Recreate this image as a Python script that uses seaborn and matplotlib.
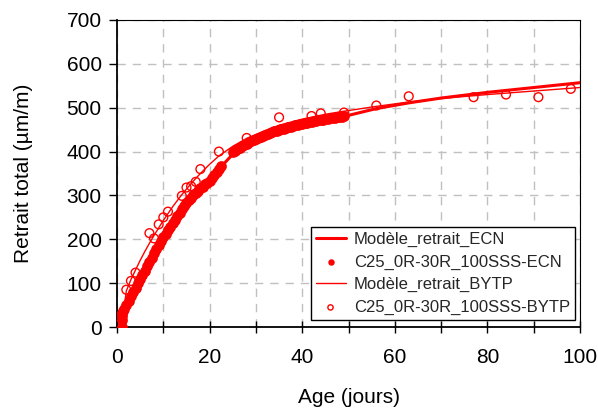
import matplotlib
matplotlib.use("Agg")
import matplotlib.pyplot as plt
import seaborn as sns
import pandas as pd

# ECN measurements (dense sensor readings)
ecn_age = [1.0, 1.0, 1.0, 1.1, 1.2,
           1.5, 2.0, 2.5, 3.0, 3.5, 4.0, 4.5, 5.0, 5.5, 6.0, 6.5, 7.0, 7.5, 8.0, 8.5,
           9.0, 9.5, 10.0, 10.5, 11.0, 11.5, 12.0, 12.5, 13.0, 13.5, 14.0, 14.5, 15.0,
           15.5, 16.0, 16.5, 17.0, 17.5, 18.0, 18.5, 19.0, 19.5, 20.0,
           20.5, 21.0, 21.5, 22.0, 22.5,
           25.0, 25.5, 26.0, 26.5, 27.0, 27.5, 28.0, 28.5, 29.0, 29.5, 30.0, 30.5,
           31.0, 31.5, 32.0, 32.5, 33.0, 33.5, 34.0, 34.5, 35.0, 35.5, 36.0, 36.5,
           37.0, 37.5, 38.0, 38.5, 39.0, 39.5, 40.0, 40.5, 41.0, 41.5, 42.0, 42.5,
           43.0, 43.5, 44.0, 44.5, 45.0, 45.5, 46.0, 46.5, 47.0, 47.5, 48.0, 48.5, 49.0]
ecn_val = [0, 15, 25, 32, 36,
           40, 50, 60, 70, 80, 90, 100, 110, 119, 128, 138, 148, 158, 168, 178,
           188, 197, 205, 213, 221, 229, 237, 245, 253, 261, 269, 276, 283,
           289, 295, 300, 306, 311, 316, 320, 325, 329, 333,
           340, 347, 354, 360, 366,
           398, 401, 405, 408, 412, 415, 418, 421, 424, 427, 429, 432,
           434, 436, 438, 440, 442, 444, 446, 448, 449, 451, 452, 454,
           455, 457, 458, 460, 461, 462, 463, 465, 466, 467, 468, 469,
           470, 471, 472, 473, 474, 475, 476, 476, 477, 478, 479, 479, 480]

# BYTP measurements
bytp_age = [2, 3, 4, 7, 8, 9, 10, 11, 14, 15, 16, 17, 18, 22, 28, 35, 42, 44, 49,
            56, 63, 77, 84, 91, 98]
bytp_val = [85, 105, 124, 214, 202, 234, 250, 263, 299, 318, 321, 331, 360, 400,
            431, 478, 481, 487, 489, 505, 526, 524, 530, 524, 543]

# model curves
mod_ecn_age = [1, 2, 4, 6, 8, 10, 12, 14, 16, 18, 20, 22, 25, 28, 32, 36, 40, 45,
               49, 56, 63, 70, 80, 90, 100]
mod_ecn_val = [0, 50, 90, 128, 168, 205, 237, 269, 295, 316, 336, 360, 394, 418,
               438, 452, 463, 474, 480, 498, 511, 522, 535, 546, 557]
mod_bytp_age = [1, 2, 3, 4, 5, 6, 7, 8, 10, 12, 14, 16, 18, 20, 22, 25, 28, 32, 35,
                40, 45, 49, 56, 63, 70, 80, 90, 100]
mod_bytp_val = [0, 82, 108, 130, 152, 172, 191, 209, 243, 274, 302, 327, 350, 371,
                390, 412, 430, 448, 460, 474, 485, 492, 503, 513, 521, 530, 538, 546]

sns.set_theme(style="white")
plt.rcParams['font.family'] = ['Liberation Sans', 'DejaVu Sans']

fig = plt.figure(figsize=(5.98, 4.12), dpi=100)
ax = fig.add_axes([0.1957, 0.2063, 0.7743, 0.7452])

red = '#ff0000'
sns.lineplot(x=mod_ecn_age, y=mod_ecn_val, ax=ax, color=red, linewidth=2.2,
             label='Modèle_retrait_ECN', zorder=3)
sns.scatterplot(x=ecn_age, y=ecn_val, ax=ax, color=red, s=60, linewidth=0,
                marker='o', label='C25_0R-30R_100SSS-ECN', zorder=4)
sns.lineplot(x=mod_bytp_age, y=mod_bytp_val, ax=ax, color=red, linewidth=1.0,
             label='Modèle_retrait_BYTP', zorder=5)
sns.scatterplot(x=bytp_age, y=bytp_val, ax=ax, s=40, marker='o',
                facecolors='none', edgecolors=red, linewidths=1.0,
                label='C25_0R-30R_100SSS-BYTP', zorder=6)

ax.set_xlim(0, 100)
ax.set_ylim(0, 700)
ax.set_xticks(range(0, 101, 10))
ax.set_xticklabels([str(v) if v % 20 == 0 else '' for v in range(0, 101, 10)])
ax.set_yticks(range(0, 701, 100))
ax.grid(True, color='#c0c0c0', linestyle=(0, (6, 5)), linewidth=1.0)
ax.set_axisbelow(True)

for s in ['top', 'right']:
    ax.spines[s].set_linewidth(0.8)
    ax.spines[s].set_color('black')
for s in ['left', 'bottom']:
    ax.spines[s].set_linewidth(1.3)
    ax.spines[s].set_color('black')

ax.tick_params(axis='x', direction='inout', length=8, width=1, labelsize=15,
               pad=11, bottom=True, colors='black')
ax.tick_params(axis='y', direction='out', length=6, width=1, labelsize=15,
               pad=5, left=True, colors='black')

ax.set_xlabel('Age (jours)', fontsize=15, labelpad=15, color='black')
ax.set_ylabel('Retrait total (µm/m)', fontsize=15, labelpad=24, color='black')

handles, labels = ax.get_legend_handles_labels()
order = ['Modèle_retrait_ECN', 'C25_0R-30R_100SSS-ECN',
         'Modèle_retrait_BYTP', 'C25_0R-30R_100SSS-BYTP']
hmap = dict(zip(labels, handles))
leg = ax.legend([hmap[k] for k in order], order, loc='lower right',
                bbox_to_anchor=(0.989, 0.023), borderaxespad=0, fontsize=12,
                frameon=True, fancybox=False, edgecolor='black', framealpha=1,
                handlelength=1.8, handletextpad=0.5, borderpad=0.3,
                labelspacing=0.45, markerscale=0.6)
leg.get_frame().set_linewidth(1)

fig.savefig('out.png', dpi=100)
